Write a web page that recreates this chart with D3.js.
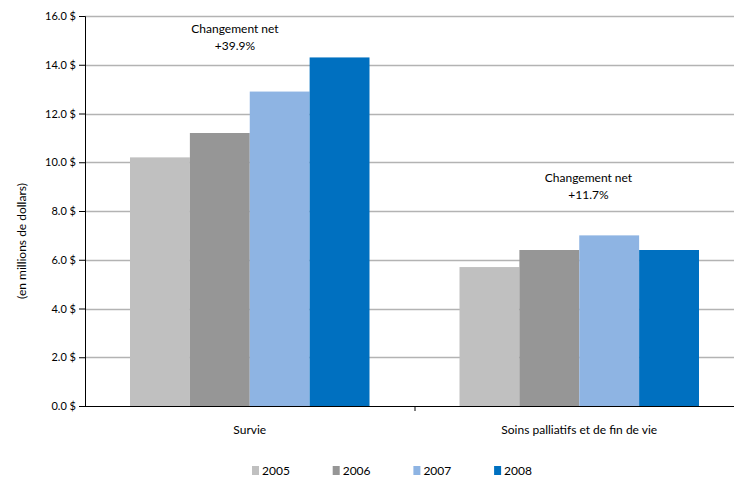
<!DOCTYPE html>
<html>
<head>
<meta charset="utf-8">
<script src="https://cdn.jsdelivr.net/npm/d3@7"></script>
<style>
  body { margin: 0; background: #fff; }
  #chart { width: 734px; height: 478px; overflow: hidden; }
  text { font-family: Lato, "Open Sans", sans-serif; fill: #000; }
</style>
</head>
<body>
<div id="chart"></div>
<script>
// Data
const categories = ['Survie', 'Soins palliatifs et de fin de vie'];
const years = ['2005', '2006', '2007', '2008'];
const values = {
  '2005': [10.2, 5.7],
  '2006': [11.2, 6.4],
  '2007': [12.9, 7.0],
  '2008': [14.3, 6.4]
};
const netChange = ['+39.9%', '+11.7%'];
const yTicks = [0, 2, 4, 6, 8, 10, 12, 14, 16];
const colors = ['#c0c0c0', '#969696', '#8eb4e3', '#0070c0'];

const width = 734;
const height = 478;
const margin = { top: 16, right: 0, bottom: 72, left: 85 };
const innerWidth = width - margin.left - margin.right;
const innerHeight = height - margin.top - margin.bottom;
const bandTotal = 659; // two categories, right one runs past the frame

const svg = d3.select('#chart')
  .append('svg')
  .attr('width', width)
  .attr('height', height);

const g = svg.append('g')
  .attr('transform', `translate(${margin.left},${margin.top})`);

// Scales
const x0 = d3.scaleBand()
  .domain(categories)
  .range([0, bandTotal])
  .padding(0);

const x1 = d3.scaleBand()
  .domain(years)
  .range([45, x0.bandwidth() - 45])
  .padding(0);

const y = d3.scaleLinear()
  .domain([0, 16])
  .range([innerHeight, 0]);

const color = d3.scaleOrdinal().domain(years).range(colors);

// Grid lines
g.append('g')
  .selectAll('line')
  .data(yTicks.filter(d => d > 0))
  .join('line')
  .attr('x1', 0).attr('x2', innerWidth)
  .attr('y1', d => Math.round(y(d)) + 0.5)
  .attr('y2', d => Math.round(y(d)) + 0.5)
  .attr('stroke', '#b3b3b3')
  .attr('stroke-width', 1.5);

// Bars
const rows = categories.map((c, ci) => ({ cat: c, ci }));
const groups = g.selectAll('.cat')
  .data(rows)
  .join('g')
  .attr('class', 'cat')
  .attr('transform', d => `translate(${x0(d.cat)},0)`);

groups.selectAll('rect')
  .data(d => years.map(yr => ({ yr, v: values[yr][d.ci] })))
  .join('rect')
  .attr('x', d => x1(d.yr))
  .attr('y', d => y(d.v))
  .attr('width', x1.bandwidth())
  .attr('height', d => innerHeight - y(d.v))
  .attr('fill', d => color(d.yr));

// Annotations (net change)
const annoX = [x1('2005') + 105, x1('2005') + 129];
const annoY = [y(16) + 17, y(9.5) + 8];
groups.append('text')
  .attr('text-anchor', 'middle')
  .attr('font-size', '12px')
  .each(function(d) {
    const t = d3.select(this);
    t.append('tspan').attr('x', annoX[d.ci]).attr('y', annoY[d.ci]).text('Changement net');
    t.append('tspan').attr('x', annoX[d.ci]).attr('y', annoY[d.ci] + 17).text(netChange[d.ci]);
  });

// Y axis
const yAxis = g.append('g')
  .call(d3.axisLeft(y)
    .tickValues(yTicks)
    .tickSize(6)
    .tickPadding(3)
    .tickFormat(d => d3.format('.1f')(d) + ' $'));
yAxis.select('.domain').attr('stroke', '#000');
yAxis.selectAll('.tick line').attr('stroke', '#000');
yAxis.selectAll('text').attr('font-size', '11px').attr('fill', '#000');

// X axis line and divider tick
g.append('line')
  .attr('x1', 0).attr('x2', innerWidth)
  .attr('y1', innerHeight + 0.5).attr('y2', innerHeight + 0.5)
  .attr('stroke', '#000');

g.append('line')
  .attr('x1', x0(categories[1]) + 0.5).attr('x2', x0(categories[1]) + 0.5)
  .attr('y1', innerHeight).attr('y2', innerHeight + 5)
  .attr('stroke', '#000');

g.append('g')
  .selectAll('text')
  .data(categories)
  .join('text')
  .attr('x', d => x0(d) + x0.bandwidth() / 2)
  .attr('y', innerHeight + 28)
  .attr('text-anchor', 'middle')
  .attr('font-size', '12px')
  .text(d => d);

// Y label
svg.append('text')
  .attr('transform', 'rotate(-90)')
  .attr('x', -241)
  .attr('y', 26)
  .attr('text-anchor', 'middle')
  .attr('font-size', '12px')
  .text('(en millions de dollars)');

// Legend
const legend = svg.append('g')
  .attr('transform', 'translate(252, 466)');

years.forEach((yr, i) => {
  legend.append('rect')
    .attr('x', i * 80.7)
    .attr('y', 0)
    .attr('width', 7)
    .attr('height', 9)
    .attr('fill', color(yr));
  legend.append('text')
    .attr('x', i * 80.7 + 10)
    .attr('y', 9)
    .attr('font-size', '12px')
    .text(yr);
});
</script>
</body>
</html>
